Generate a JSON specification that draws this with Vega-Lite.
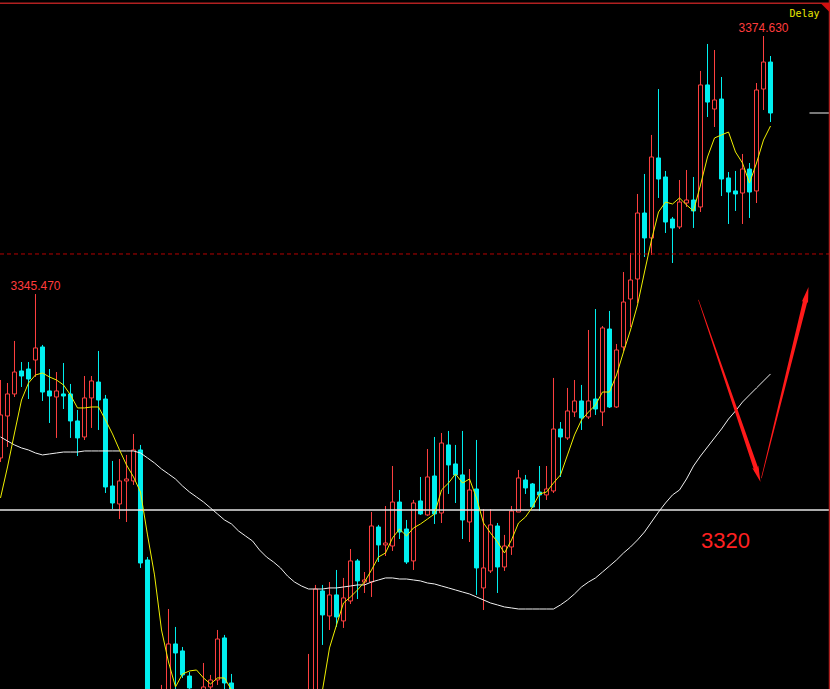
{
  "$schema": "https://vega.github.io/schema/vega-lite/v6.json",
  "width": 830,
  "height": 689,
  "padding": 0,
  "autosize": {"type": "none"},
  "background": "#000000",
  "config": {"view": {"stroke": null}},
  "datasets": {
    "candles": [
      {"i":0,"o":3326.95,"h":3335.76,"l":3326.49,"c":3331.81,"m5":3322.43,"mL":3329.32},
      {"i":1,"o":3331.69,"h":3335.42,"l":3328.19,"c":3334.18,"m5":3325.93,"mL":3328.87},
      {"i":2,"o":3334.18,"h":3340.17,"l":3333.84,"c":3336.66,"m5":3329.77,"mL":3328.42},
      {"i":3,"o":3336.78,"h":3337.79,"l":3334.97,"c":3336.21,"m5":3333.50,"mL":3328.08},
      {"i":4,"o":3337.00,"h":3337.79,"l":3333.61,"c":3335.87,"m5":3335.42,"mL":3327.85},
      {"i":5,"o":3338.02,"h":3345.47,"l":3336.10,"c":3339.38,"m5":3336.33,"mL":3327.51},
      {"i":6,"o":3339.49,"h":3339.72,"l":3333.39,"c":3334.40,"m5":3336.55,"mL":3327.29},
      {"i":7,"o":3334.52,"h":3337.00,"l":3330.90,"c":3333.95,"m5":3336.10,"mL":3327.40},
      {"i":8,"o":3333.84,"h":3336.66,"l":3329.21,"c":3334.52,"m5":3335.76,"mL":3327.51},
      {"i":9,"o":3334.18,"h":3337.68,"l":3332.48,"c":3333.95,"m5":3335.20,"mL":3327.62},
      {"i":10,"o":3334.18,"h":3335.31,"l":3329.21,"c":3331.13,"m5":3334.07,"mL":3327.62},
      {"i":11,"o":3331.13,"h":3332.37,"l":3327.17,"c":3329.21,"m5":3332.60,"mL":3327.62},
      {"i":12,"o":3329.32,"h":3336.21,"l":3328.98,"c":3333.73,"m5":3332.60,"mL":3327.74},
      {"i":13,"o":3333.73,"h":3336.21,"l":3330.34,"c":3335.65,"m5":3332.71,"mL":3327.74},
      {"i":14,"o":3335.53,"h":3339.04,"l":3330.11,"c":3333.50,"m5":3332.71,"mL":3327.74},
      {"i":15,"o":3333.61,"h":3334.07,"l":3322.99,"c":3323.67,"m5":3331.24,"mL":3327.74},
      {"i":16,"o":3323.78,"h":3326.61,"l":3321.18,"c":3321.86,"m5":3329.66,"mL":3327.74},
      {"i":17,"o":3321.75,"h":3326.83,"l":3320.05,"c":3324.35,"m5":3327.85,"mL":3327.74},
      {"i":18,"o":3324.35,"h":3327.29,"l":3319.71,"c":3324.57,"m5":3326.16,"mL":3327.74},
      {"i":19,"o":3324.35,"h":3329.66,"l":3323.90,"c":3327.85,"m5":3324.80,"mL":3327.74},
      {"i":20,"o":3327.85,"h":3328.42,"l":3314.52,"c":3315.08,"m5":3323.10,"mL":3327.51},
      {"i":21,"o":3315.42,"h":3315.76,"l":3296.21,"c":3297.34,"m5":3318.25,"mL":3326.95},
      {"i":22,"o":3297.34,"h":3299.04,"l":3295.65,"c":3296.78,"m5":3313.73,"mL":3326.38},
      {"i":23,"o":3296.78,"h":3301.30,"l":3296.21,"c":3299.60,"m5":3307.51,"mL":3325.70},
      {"i":24,"o":3299.60,"h":3309.88,"l":3299.04,"c":3305.93,"m5":3303.89,"mL":3325.14},
      {"i":25,"o":3305.93,"h":3307.85,"l":3300.17,"c":3304.91,"m5":3301.07,"mL":3324.57},
      {"i":26,"o":3305.14,"h":3305.59,"l":3302.09,"c":3302.43,"m5":3302.54,"mL":3323.78},
      {"i":27,"o":3302.31,"h":3302.76,"l":3299.60,"c":3300.96,"m5":3302.88,"mL":3323.10},
      {"i":28,"o":3300.45,"h":3300.55,"l":3299.04,"c":3299.60,"m5":3302.99,"mL":3322.54},
      {"i":29,"o":3299.60,"h":3303.78,"l":3299.04,"c":3301.07,"m5":3302.09,"mL":3321.97},
      {"i":30,"o":3301.07,"h":3302.43,"l":3300.17,"c":3301.86,"m5":3301.41,"mL":3321.30},
      {"i":31,"o":3301.86,"h":3307.51,"l":3301.30,"c":3306.49,"m5":3302.09,"mL":3320.62},
      {"i":32,"o":3306.61,"h":3306.95,"l":3300.17,"c":3301.52,"m5":3302.09,"mL":3319.94},
      {"i":33,"o":3301.52,"h":3302.54,"l":3292.26,"c":3292.82,"m5":3300.73,"mL":3319.49},
      {"i":34,"o":3292.82,"h":3293.39,"l":3290.00,"c":3291.13,"m5":3298.81,"mL":3318.70},
      {"i":35,"o":3291.13,"h":3291.69,"l":3288.30,"c":3289.43,"m5":3296.32,"mL":3318.13},
      {"i":36,"o":3289.43,"h":3290.33,"l":3287.17,"c":3288.30,"m5":3292.59,"mL":3317.57},
      {"i":37,"o":3288.30,"h":3288.87,"l":3286.27,"c":3287.17,"m5":3289.77,"mL":3316.55},
      {"i":38,"o":3287.17,"h":3287.96,"l":3285.81,"c":3286.61,"m5":3288.53,"mL":3315.76},
      {"i":39,"o":3286.61,"h":3287.17,"l":3285.14,"c":3286.04,"m5":3287.51,"mL":3315.19},
      {"i":40,"o":3286.04,"h":3287.40,"l":3285.48,"c":3286.61,"m5":3286.94,"mL":3314.52},
      {"i":41,"o":3286.61,"h":3288.30,"l":3286.04,"c":3287.74,"m5":3286.83,"mL":3313.61},
      {"i":42,"o":3287.74,"h":3290.00,"l":3287.17,"c":3289.43,"m5":3287.28,"mL":3312.93},
      {"i":43,"o":3289.43,"h":3296.21,"l":3288.87,"c":3295.08,"m5":3288.98,"mL":3312.48},
      {"i":44,"o":3295.08,"h":3304.80,"l":3294.52,"c":3298.58,"m5":3291.46,"mL":3312.14},
      {"i":45,"o":3298.58,"h":3312.60,"l":3298.24,"c":3312.14,"m5":3296.55,"mL":3312.14},
      {"i":46,"o":3311.92,"h":3312.60,"l":3305.82,"c":3309.21,"m5":3300.73,"mL":3312.14},
      {"i":47,"o":3309.09,"h":3312.93,"l":3307.51,"c":3311.47,"m5":3305.48,"mL":3312.26},
      {"i":48,"o":3311.47,"h":3314.29,"l":3307.85,"c":3308.98,"m5":3308.08,"mL":3312.26},
      {"i":49,"o":3308.53,"h":3313.39,"l":3307.74,"c":3311.13,"m5":3310.56,"mL":3312.37},
      {"i":50,"o":3310.79,"h":3316.66,"l":3310.45,"c":3315.31,"m5":3311.24,"mL":3312.48},
      {"i":51,"o":3315.31,"h":3315.53,"l":3311.01,"c":3313.05,"m5":3312.03,"mL":3312.60},
      {"i":52,"o":3312.93,"h":3314.06,"l":3311.69,"c":3313.16,"m5":3312.93,"mL":3312.60},
      {"i":53,"o":3312.93,"h":3320.84,"l":3311.24,"c":3319.26,"m5":3314.29,"mL":3312.93},
      {"i":54,"o":3319.15,"h":3319.38,"l":3315.19,"c":3317.12,"m5":3315.76,"mL":3313.16},
      {"i":55,"o":3317.12,"h":3321.52,"l":3315.87,"c":3317.34,"m5":3316.21,"mL":3313.39},
      {"i":56,"o":3317.00,"h":3326.04,"l":3316.44,"c":3321.97,"m5":3317.91,"mL":3313.39},
      {"i":57,"o":3321.97,"h":3323.33,"l":3317.79,"c":3318.58,"m5":3318.92,"mL":3313.27},
      {"i":58,"o":3318.92,"h":3319.94,"l":3314.97,"c":3315.19,"m5":3318.13,"mL":3313.27},
      {"i":59,"o":3315.31,"h":3322.20,"l":3314.29,"c":3321.86,"m5":3319.04,"mL":3313.16},
      {"i":60,"o":3322.09,"h":3324.80,"l":3320.51,"c":3320.62,"m5":3319.49,"mL":3313.05},
      {"i":61,"o":3320.51,"h":3327.96,"l":3320.39,"c":3324.80,"m5":3320.05,"mL":3312.82},
      {"i":62,"o":3324.91,"h":3329.32,"l":3319.49,"c":3320.62,"m5":3320.62,"mL":3312.71},
      {"i":63,"o":3320.73,"h":3329.77,"l":3319.60,"c":3328.64,"m5":3323.33,"mL":3312.48},
      {"i":64,"o":3328.42,"h":3330.00,"l":3322.88,"c":3326.16,"m5":3324.12,"mL":3312.26},
      {"i":65,"o":3326.27,"h":3328.42,"l":3321.86,"c":3325.03,"m5":3325.14,"mL":3312.03},
      {"i":66,"o":3325.03,"h":3330.00,"l":3317.79,"c":3319.94,"m5":3324.12,"mL":3311.80},
      {"i":67,"o":3319.71,"h":3325.70,"l":3317.45,"c":3323.33,"m5":3324.57,"mL":3311.58},
      {"i":68,"o":3323.44,"h":3328.98,"l":3311.47,"c":3314.52,"m5":3322.43,"mL":3311.24},
      {"i":69,"o":3312.26,"h":3321.18,"l":3309.77,"c":3314.52,"m5":3319.60,"mL":3310.90},
      {"i":70,"o":3314.18,"h":3321.18,"l":3313.95,"c":3319.38,"m5":3318.47,"mL":3310.56},
      {"i":71,"o":3319.26,"h":3319.60,"l":3311.69,"c":3314.63,"m5":3317.45,"mL":3310.34},
      {"i":72,"o":3314.63,"h":3318.25,"l":3314.18,"c":3317.00,"m5":3316.21,"mL":3310.11},
      {"i":73,"o":3316.89,"h":3321.52,"l":3315.99,"c":3320.96,"m5":3317.68,"mL":3310.00},
      {"i":74,"o":3320.84,"h":3325.59,"l":3320.84,"c":3324.69,"m5":3319.60,"mL":3309.88},
      {"i":75,"o":3324.46,"h":3325.03,"l":3322.88,"c":3323.56,"m5":3320.28,"mL":3309.88},
      {"i":76,"o":3324.01,"h":3324.12,"l":3321.30,"c":3321.41,"m5":3321.41,"mL":3309.88},
      {"i":77,"o":3323.10,"h":3326.04,"l":3320.96,"c":3322.77,"m5":3322.88,"mL":3309.88},
      {"i":78,"o":3322.77,"h":3326.04,"l":3322.20,"c":3323.44,"m5":3323.10,"mL":3309.88},
      {"i":79,"o":3323.22,"h":3335.99,"l":3322.99,"c":3330.22,"m5":3324.12,"mL":3309.88},
      {"i":80,"o":3330.22,"h":3331.01,"l":3324.80,"c":3329.32,"m5":3325.03,"mL":3310.34},
      {"i":81,"o":3329.21,"h":3334.86,"l":3328.98,"c":3332.26,"m5":3327.29,"mL":3310.90},
      {"i":82,"o":3332.14,"h":3335.76,"l":3331.58,"c":3333.39,"m5":3329.55,"mL":3311.58},
      {"i":83,"o":3333.39,"h":3335.20,"l":3330.11,"c":3331.47,"m5":3331.24,"mL":3312.37},
      {"i":84,"o":3331.58,"h":3341.41,"l":3331.35,"c":3333.39,"m5":3332.14,"mL":3312.93},
      {"i":85,"o":3333.61,"h":3343.78,"l":3331.81,"c":3332.48,"m5":3332.94,"mL":3313.39},
      {"i":86,"o":3332.14,"h":3341.86,"l":3330.56,"c":3341.64,"m5":3334.40,"mL":3314.06},
      {"i":87,"o":3341.52,"h":3343.56,"l":3332.60,"c":3332.71,"m5":3334.40,"mL":3314.74},
      {"i":88,"o":3332.71,"h":3339.83,"l":3332.60,"c":3339.15,"m5":3336.33,"mL":3315.42},
      {"i":89,"o":3339.49,"h":3347.96,"l":3339.04,"c":3344.57,"m5":3338.92,"mL":3316.21},
      {"i":90,"o":3344.91,"h":3350.11,"l":3341.75,"c":3347.06,"m5":3341.41,"mL":3316.89},
      {"i":91,"o":3347.17,"h":3356.78,"l":3344.46,"c":3354.63,"m5":3344.24,"mL":3317.68},
      {"i":92,"o":3354.63,"h":3359.04,"l":3349.66,"c":3351.81,"m5":3347.96,"mL":3318.58},
      {"i":93,"o":3351.81,"h":3363.45,"l":3349.89,"c":3360.96,"m5":3351.58,"mL":3319.71},
      {"i":94,"o":3360.85,"h":3368.64,"l":3356.33,"c":3358.47,"m5":3354.74,"mL":3320.84},
      {"i":95,"o":3358.70,"h":3359.38,"l":3352.37,"c":3353.61,"m5":3355.87,"mL":3321.86},
      {"i":96,"o":3353.95,"h":3354.18,"l":3348.98,"c":3352.94,"m5":3355.65,"mL":3322.77},
      {"i":97,"o":3353.05,"h":3358.36,"l":3352.82,"c":3355.87,"m5":3356.33,"mL":3323.33},
      {"i":98,"o":3355.76,"h":3359.49,"l":3355.31,"c":3356.10,"m5":3355.54,"mL":3324.57},
      {"i":99,"o":3356.10,"h":3358.70,"l":3352.94,"c":3354.86,"m5":3354.86,"mL":3326.04},
      {"i":100,"o":3355.31,"h":3370.68,"l":3354.74,"c":3369.10,"m5":3357.80,"mL":3327.17},
      {"i":101,"o":3369.10,"h":3373.73,"l":3365.48,"c":3367.17,"m5":3360.96,"mL":3328.19},
      {"i":102,"o":3366.38,"h":3373.05,"l":3364.35,"c":3367.40,"m5":3363.11,"mL":3329.21},
      {"i":103,"o":3367.51,"h":3370.00,"l":3356.55,"c":3358.47,"m5":3363.45,"mL":3330.22},
      {"i":104,"o":3358.59,"h":3359.26,"l":3353.39,"c":3357.00,"m5":3363.78,"mL":3331.35},
      {"i":105,"o":3357.12,"h":3359.38,"l":3354.86,"c":3356.78,"m5":3361.52,"mL":3332.26},
      {"i":106,"o":3356.89,"h":3361.30,"l":3353.39,"c":3359.60,"m5":3360.28,"mL":3333.27},
      {"i":107,"o":3359.60,"h":3360.28,"l":3354.07,"c":3357.00,"m5":3358.02,"mL":3334.07},
      {"i":108,"o":3357.12,"h":3369.32,"l":3355.76,"c":3368.53,"m5":3360.28,"mL":3334.86},
      {"i":109,"o":3368.64,"h":3374.63,"l":3366.27,"c":3371.69,"m5":3362.88,"mL":3335.65},
      {"i":110,"o":3371.69,"h":3372.37,"l":3364.91,"c":3365.93,"m5":3364.46,"mL":3336.44}
    ]
  },
  "layer": [
    {
      "data": {"name": "candles"},
      "mark": {"type": "rule", "strokeWidth": 1, "clip": true},
      "encoding": {
        "x": {"field": "i", "type": "quantitative", "scale": {"domain": [-0.0714, 118.5], "nice": false, "zero": false, "padding": 0}, "axis": null},
        "y": {"field": "h", "type": "quantitative", "scale": {"domain": [3300.84, 3378.7], "nice": false, "zero": false, "padding": 0}, "axis": null},
        "y2": {"field": "l"},
        "color": {"condition": {"test": "datum.c >= datum.o", "value": "#ff4040"}, "value": "#00f0f0"}
      }
    },
    {
      "data": {"name": "candles"},
      "mark": {"type": "bar", "orient": "vertical", "size": 4, "strokeWidth": 1, "clip": true},
      "encoding": {
        "x": {"field": "i", "type": "quantitative", "scale": {"domain": [-0.0714, 118.5], "nice": false, "zero": false, "padding": 0}},
        "y": {"field": "o", "type": "quantitative"},
        "y2": {"field": "c"},
        "fill": {"condition": {"test": "datum.c >= datum.o", "value": "#000000"}, "value": "#00f0f0"},
        "stroke": {"condition": {"test": "datum.c >= datum.o", "value": "#ff4040"}, "value": "#00f0f0"}
      }
    },
    {
      "data": {"values": [{"p": 3350.0}]},
      "mark": {"type": "rule", "color": "#b40000", "strokeWidth": 1, "strokeDash": [4, 3]},
      "encoding": {"y": {"field": "p", "type": "quantitative"}}
    },
    {
      "data": {"values": [{"p": 3321.07}]},
      "mark": {"type": "rule", "color": "#e6e6e6", "strokeWidth": 1.5},
      "encoding": {"y": {"field": "p", "type": "quantitative"}}
    },
    {
      "data": {"name": "candles"},
      "mark": {"type": "line", "color": "#f0f0f0", "strokeWidth": 1, "clip": true},
      "encoding": {
        "x": {"field": "i", "type": "quantitative"},
        "y": {"field": "mL", "type": "quantitative"}
      }
    },
    {
      "data": {"name": "candles"},
      "mark": {"type": "line", "color": "#f0f000", "strokeWidth": 1, "clip": true},
      "encoding": {
        "x": {"field": "i", "type": "quantitative"},
        "y": {"field": "m5", "type": "quantitative"}
      }
    },
    {
      "data": {"values": [{"i": 5, "p": 3345.47, "t": "3345.470"}, {"i": 109, "p": 3374.63, "t": "3374.630"}]},
      "mark": {"type": "text", "font": "Liberation Sans", "fontSize": 12, "color": "#ff3c3c", "baseline": "bottom", "align": "center", "dy": -1},
      "encoding": {
        "x": {"field": "i", "type": "quantitative"},
        "y": {"field": "p", "type": "quantitative"},
        "text": {"field": "t"}
      }
    },
    {
      "data": {"values": [{"i": 114.86, "p": 3376.75, "t": "Delay"}]},
      "mark": {"type": "text", "font": "DejaVu Sans Mono", "fontSize": 10, "color": "#e8e800", "baseline": "alphabetic", "align": "center"},
      "encoding": {
        "x": {"field": "i", "type": "quantitative"},
        "y": {"field": "p", "type": "quantitative"},
        "text": {"field": "t"}
      }
    },
    {
      "data": {"values": [{"i": 103.57, "p": 3316.78, "t": "3320"}]},
      "mark": {"type": "text", "font": "Liberation Sans", "fontSize": 22, "color": "#ff2020", "baseline": "alphabetic", "align": "center"},
      "encoding": {
        "x": {"field": "i", "type": "quantitative"},
        "y": {"field": "p", "type": "quantitative"},
        "text": {"field": "t"}
      }
    },
    {
      "data": {"values": [
        {"a": 1, "k": 0, "i": 99.71, "p": 3344.80, "w": 0.6},
        {"a": 1, "k": 1, "i": 108.0, "p": 3325.59, "w": 4.5},
        {"a": 2, "k": 0, "i": 108.71, "p": 3324.69, "w": 0.6},
        {"a": 2, "k": 1, "i": 115.0, "p": 3344.80, "w": 4.5}
      ]},
      "mark": {"type": "trail", "color": "#ff1a1a"},
      "encoding": {
        "x": {"field": "i", "type": "quantitative"},
        "y": {"field": "p", "type": "quantitative"},
        "size": {"field": "w", "type": "quantitative", "scale": null, "legend": null},
        "detail": {"field": "a"},
        "order": {"field": "k"}
      }
    },
    {
      "data": {"values": [
        {"i": 108.2, "p": 3325.09, "ang": 161},
        {"i": 115.17, "p": 3345.39, "ang": 13}
      ]},
      "mark": {"type": "point", "filled": true, "shape": "M0,-1L0.4,1L0,0.6L-0.4,1Z", "size": 256, "color": "#ff1a1a", "opacity": 1, "strokeWidth": 0},
      "encoding": {
        "x": {"field": "i", "type": "quantitative"},
        "y": {"field": "p", "type": "quantitative"},
        "angle": {"field": "ang", "type": "quantitative", "scale": null}
      }
    },
    {
      "data": {"values": [{"i": 115.57, "i2": 118.5, "p": 3365.93}]},
      "mark": {"type": "rule", "color": "#f0f0f0", "strokeWidth": 1},
      "encoding": {
        "x": {"field": "i", "type": "quantitative"},
        "x2": {"field": "i2"},
        "y": {"field": "p", "type": "quantitative"}
      }
    },
    {
      "data": {"values": [{"p": 3378.33}]},
      "mark": {"type": "rule", "color": "#b02020", "strokeWidth": 1.5},
      "encoding": {"y": {"field": "p", "type": "quantitative"}}
    },
    {
      "data": {"values": [{"i": 118.43}]},
      "mark": {"type": "rule", "color": "#b02020", "strokeWidth": 1.5},
      "encoding": {"x": {"field": "i", "type": "quantitative"}}
    },
    {
      "data": {"values": [{"i": 117.86, "p": 3377.8}]},
      "mark": {"type": "point", "filled": true, "shape": "M-1,-1L1,-1L1,1Z", "size": 100, "color": "#d01010", "opacity": 1, "strokeWidth": 0},
      "encoding": {
        "x": {"field": "i", "type": "quantitative"},
        "y": {"field": "p", "type": "quantitative"}
      }
    }
  ]
}
